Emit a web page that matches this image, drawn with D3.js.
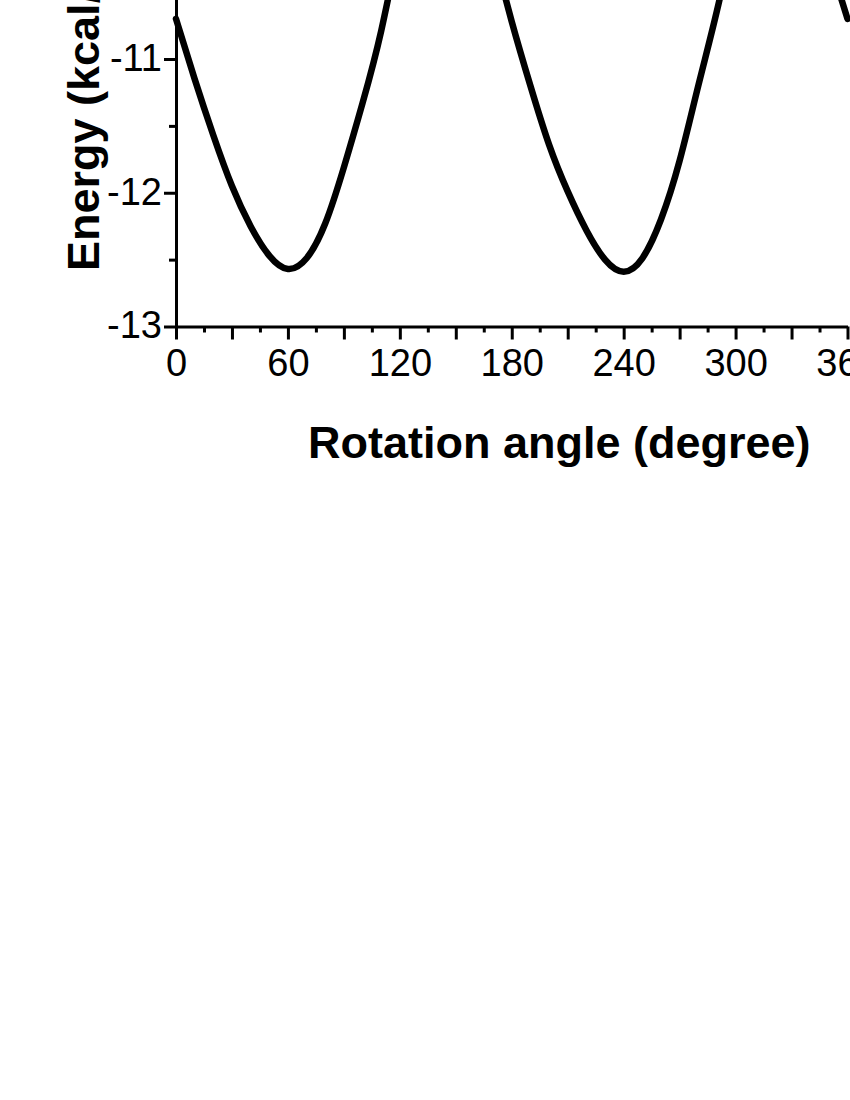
<!DOCTYPE html>
<html>
<head>
<meta charset="utf-8">
<title>Rotation energy</title>
<script src="https://cdn.jsdelivr.net/npm/d3@7"></script>
<style>
  body { margin: 0; background: #fff; }
  svg { display: block; }
  .axis path, .axis line { stroke: #000; stroke-width: 3px; }
  .axis text { font: 38px "Liberation Sans", Arial, sans-serif; fill: #000; }
  .title { font: bold 45px "Liberation Sans", Arial, sans-serif; fill: #000; }
  .curve { fill: none; stroke: #000; stroke-width: 6.5px; stroke-linecap: round; stroke-linejoin: round; }
</style>
</head>
<body>
<svg id="chart" width="850" height="1100"></svg>
<script>
// rotation angle (degree) and energy (kcal/mol)
var angles = [0, 10, 20, 30, 40, 50, 60, 70, 80, 90, 100, 110, 120, 130, 140, 150, 160, 170,
              180, 190, 200, 210, 220, 230, 240, 250, 260, 270, 280, 290, 300, 310, 320, 330, 340, 350, 360];
var energies = [-10.70, -11.15, -11.57, -11.95, -12.25, -12.47, -12.57, -12.49, -12.23, -11.81, -11.33, -10.79,
                -10.15, -9.72, -9.50, -9.50, -9.75, -10.20,
                -10.72, -11.20, -11.64, -11.99, -12.28, -12.50, -12.59, -12.49, -12.20, -11.76, -11.20, -10.64,
                -10.04, -9.62, -9.45, -9.50, -9.80, -10.25, -10.70];

var xMajor = [0, 30, 60, 90, 120, 150, 180, 210, 240, 270, 300, 330, 360];
var xMinor = [15, 45, 75, 105, 135, 165, 195, 225, 255, 285, 315, 345];
var yMajor = [-13, -12, -11, -10, -9];
var yMinor = [-12.5, -11.5, -10.5, -9.5];

var svg = d3.select("#chart");

var x = d3.scaleLinear().domain([0, 360]).range([176, 847.5]);
var y = d3.scaleLinear().domain([-13, -8.5]).range([326.5, 326.5 - 4.5 * 133.75]);

// minor ticks first so the main axis lines sit on top
svg.append("g")
    .attr("class", "axis")
    .attr("transform", "translate(0," + y(-13) + ")")
    .call(d3.axisBottom(x).tickValues(xMinor).tickSize(6).tickFormat(""))
    .select(".domain").remove();

svg.append("g")
    .attr("class", "axis")
    .attr("transform", "translate(" + x(0) + ",0)")
    .call(d3.axisLeft(y).tickValues(yMinor).tickSize(7).tickFormat(""))
    .select(".domain").remove();

var xAxis = svg.append("g")
    .attr("class", "axis")
    .attr("transform", "translate(0," + y(-13) + ")")
    .call(d3.axisBottom(x).tickValues(xMajor).tickSize(13).tickSizeOuter(0).tickPadding(8)
      .tickFormat(function(d) { return d % 60 === 0 ? d : ""; }));
xAxis.selectAll("text").attr("dy", "0.71em").attr("y", 23);

var yAxis = svg.append("g")
    .attr("class", "axis")
    .attr("transform", "translate(" + x(0) + ",0)")
    .call(d3.axisLeft(y).tickValues(yMajor).tickSize(12).tickSizeOuter(0).tickPadding(2)
      .tickFormat(function(d) { return d; }));
yAxis.selectAll("text").attr("dy", "0.3em");

var line = d3.line()
    .x(function(d, i) { return x(angles[i]); })
    .y(function(d) { return y(d); })
    .curve(d3.curveNatural);

svg.append("path")
    .datum(energies)
    .attr("class", "curve")
    .attr("d", line);

svg.append("text")
    .attr("class", "title")
    .attr("x", 308)
    .attr("y", 458)
    .text("Rotation angle (degree)");

svg.append("text")
    .attr("class", "title")
    .attr("transform", "translate(99,271) rotate(-90)")
    .text("Energy (kcal/mol)");
</script>
</body>
</html>
